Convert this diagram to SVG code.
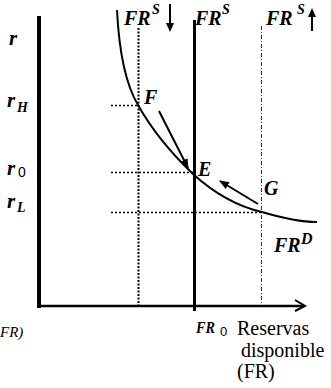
<svg xmlns="http://www.w3.org/2000/svg" width="331" height="388" viewBox="0 0 331 388">
<style>
.lbl{font-family:'Liberation Serif','DejaVu Serif','Times New Roman',serif;font-weight:bold;font-style:italic;fill:#000}
.sub{font-family:'Liberation Sans','DejaVu Sans',Arial,sans-serif;fill:#000}
.txt{font-family:'Liberation Serif','DejaVu Serif','Times New Roman',serif;fill:#000}
.dot{stroke:#000;fill:none;stroke-width:1.6;stroke-dasharray:2 2}
.vdot{stroke:#000;fill:none;stroke-width:2;stroke-dasharray:2 1.5}
.dashdot{stroke:#333;fill:none;stroke-width:1;stroke-dasharray:4 2 1 2}
.thick{stroke:#000;fill:none}
.conn{stroke:#000;stroke-width:2;fill:none;marker-end:url(#ah)}
</style>
<defs>
<marker id="ah" viewBox="0 0 10 8" refX="9" refY="4" markerWidth="10" markerHeight="8" markerUnits="userSpaceOnUse" orient="auto"><path d="M0,0 L10,4 L0,8 z" fill="#000"/></marker>
</defs>
<rect width="331" height="388" fill="#fff"/>

<g id="axes">
<line class="thick" x1="39" y1="16" x2="39" y2="308" stroke-width="4"/>
<line class="thick" x1="37" y1="306" x2="304" y2="306" stroke-width="2.5"/>
<path class="thick" d="M295,300 L305,306 L295,311" stroke-width="2"/>
</g>

<g id="guides">
<line class="dot" x1="111" y1="105.5" x2="138" y2="105.5"/>
<line class="dot" x1="111" y1="172.5" x2="193" y2="172.5"/>
<line class="dot" x1="111" y1="212.5" x2="261" y2="212.5"/>
</g>

<g id="FRS-low">
<line class="vdot" x1="138.5" y1="28" x2="138.5" y2="306"/>
<text class="lbl" x="124" y="25" font-size="20" font-family="Liberation Serif, DejaVu Serif, serif">FR</text>
<text class="lbl" x="152" y="14" font-size="14" font-family="Liberation Serif, DejaVu Serif, serif">S</text>
<line x1="170" y1="4" x2="170" y2="24" stroke="#000" stroke-width="2"/>
<path d="M166,23 L174,23 L170,32 z" fill="#000"/>
</g>

<g id="FRS">
<line class="thick" x1="194.5" y1="20" x2="194.5" y2="311" stroke-width="3"/>
<text class="lbl" x="195" y="25" font-size="20" font-family="Liberation Serif, DejaVu Serif, serif">FR</text>
<text class="lbl" x="222" y="14" font-size="14" font-family="Liberation Serif, DejaVu Serif, serif">S</text>
</g>

<g id="FRS-high">
<line class="dashdot" x1="261.5" y1="26" x2="261.5" y2="306"/>
<text class="lbl" x="266" y="25" font-size="20" font-family="Liberation Serif, DejaVu Serif, serif">FR</text>
<text class="lbl" x="297" y="14" font-size="14" font-family="Liberation Serif, DejaVu Serif, serif">S</text>
<line x1="312" y1="16" x2="312" y2="31" stroke="#000" stroke-width="2"/>
<path d="M308,17 L316,17 L312,8 z" fill="#000"/>
</g>

<g id="FRD">
<path class="thick" stroke-width="2" d="M117,10 C119,50 126,85 138,105 C152,130 170,152 193,174 C215,194 240,207 262,212 C282,218 300,222 317,222"/>
<text class="lbl" x="274" y="252" font-size="20" font-family="Liberation Serif, DejaVu Serif, serif">FR</text>
<text class="lbl" x="301" y="244" font-size="16" font-family="Liberation Serif, DejaVu Serif, serif">D</text>
</g>

<g id="F"><text class="lbl" x="144" y="104" font-size="20" font-family="Liberation Serif, DejaVu Serif, serif">F</text></g>
<g id="E"><text class="lbl" x="198" y="176" font-size="20" font-family="Liberation Serif, DejaVu Serif, serif">E</text></g>
<g id="G"><text class="lbl" x="264" y="195" font-size="20" font-family="Liberation Serif, DejaVu Serif, serif">G</text></g>

<g id="connectors">
<line class="conn" x1="159" y1="111" x2="188" y2="168"/>
<line class="conn" x1="258" y1="204" x2="220" y2="181"/>
</g>

<g id="y-labels">
<text class="lbl" x="9" y="45" font-size="21" font-family="Liberation Serif, DejaVu Serif, serif">r</text>
<text class="lbl" x="7" y="107" font-size="21" font-family="Liberation Serif, DejaVu Serif, serif">r</text>
<text class="lbl" x="17" y="112" font-size="14" font-family="Liberation Serif, DejaVu Serif, serif">H</text>
<text class="lbl" x="7" y="175" font-size="21" font-family="Liberation Serif, DejaVu Serif, serif">r</text>
<text class="sub" x="18" y="177" font-size="14" font-family="Liberation Sans, DejaVu Sans, sans-serif">0</text>
<text class="lbl" x="7" y="208" font-size="21" font-family="Liberation Serif, DejaVu Serif, serif">r</text>
<text class="lbl" x="17" y="212" font-size="14" font-family="Liberation Serif, DejaVu Serif, serif">L</text>
</g>

<g id="x-labels">
<text class="lbl" x="196" y="333" font-size="17" textLength="19" lengthAdjust="spacingAndGlyphs" font-family="Liberation Serif, DejaVu Serif, serif">FR</text>
<text class="sub" x="220" y="336" font-size="13" font-family="Liberation Sans, DejaVu Sans, sans-serif">0</text>
<text class="txt" x="237" y="335" font-size="20" font-family="Liberation Serif, DejaVu Serif, serif">Reservas</text>
<text class="txt" x="241" y="357" font-size="20" font-family="Liberation Serif, DejaVu Serif, serif">disponible</text>
<text class="txt" x="237" y="378" font-size="20" font-family="Liberation Serif, DejaVu Serif, serif">(FR)</text>
<text class="txt" x="0" y="337" font-size="15" font-style="italic" font-family="Liberation Serif, DejaVu Serif, serif">FR)</text>
</g>
</svg>
